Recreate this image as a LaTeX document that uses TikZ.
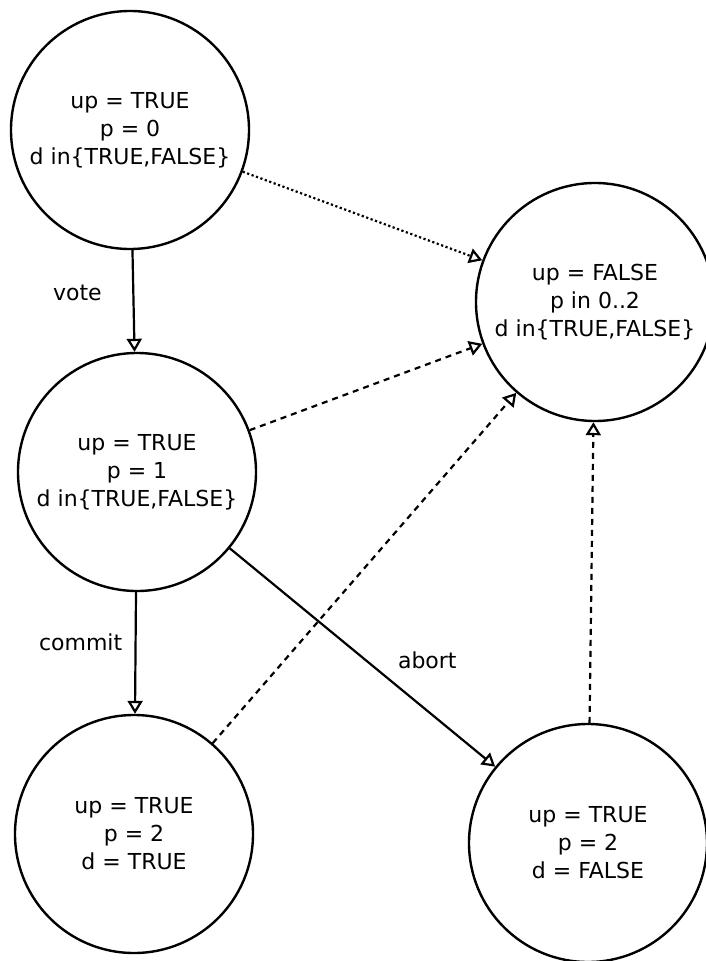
\documentclass[tikz,border=0pt]{standalone}
\usepackage{fontspec}
\setmainfont{DejaVu Sans}
\usetikzlibrary{arrows.meta}

\begin{document}
\begin{tikzpicture}[x=1pt,y=-1pt,
  state/.style={draw, circle, line width=2.4pt, minimum size=238pt, inner sep=0pt, align=center, font=\fontsize{22}{28}\selectfont},
  trans/.style={line width=2.2pt, -{Triangle[open,length=13pt,width=15pt,line width=2.2pt]}},
  lbl/.style={font=\fontsize{22}{28}\selectfont},
  dotline/.style={dash pattern=on 2.2pt off 2.5pt},
  dashline/.style={dash pattern=on 6pt off 5pt}]
\fill [white] (0,0) rectangle (706,961);
\useasboundingbox (0,0) rectangle (706,961);

\node [state] (s0) at (130,130) {up = TRUE\\p = 0\\d in\{TRUE,FALSE\}};
\node [state] (s1) at (137,472) {up = TRUE\\p = 1\\d in\{TRUE,FALSE\}};
\node [state] (s2t) at (134,834) {up = TRUE\\p = 2\\d = TRUE};
\node [state] (s2f) at (588,843) {up = TRUE\\p = 2\\d = FALSE};
\node [state] (down) at (595,302) {up = FALSE\\p in 0..2\\d in\{TRUE,FALSE\}};

\draw [trans] (s0) -- node [lbl, pos=0.42, shift={(-56,0)}] {vote} (s1);
\draw [trans] (s1) -- node [lbl, pos=0.41, shift={(-55,0)}] {commit} (s2t);
\draw [trans] (s1) -- node [lbl, pos=0.65, shift={(25,-30)}] {abort} (s2f);

\draw [trans, dotline] (s0) -- (down);
\draw [trans, dashline] (s1) -- (down);
\draw [trans, dashline] (s2t) -- (down);
\draw [trans, dashline] (s2f) -- (down);

\end{tikzpicture}
\end{document}
